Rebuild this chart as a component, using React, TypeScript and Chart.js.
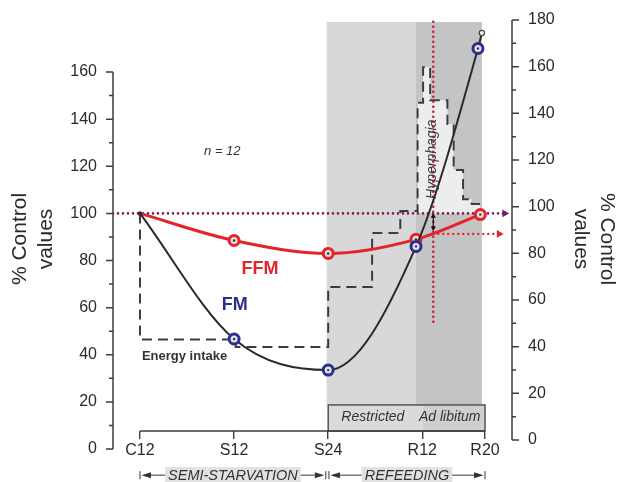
import { useEffect, useRef } from 'react';
import { Chart, registerables } from 'chart.js';

Chart.register(...registerables);

const FONT = '"Liberation Sans", Arial, Helvetica, sans-serif';

// ---- data (x in weeks counted from C12) ----
const tickWeeks = [0, 12, 24, 36, 44];
const tickLabels = ['C12', 'S12', 'S24', 'R12', 'R20'];

const fmWeeks = [0, 12, 24, 35.2, 43.1, 43.6];
const fmValues = [100, 46.7, 33.5, 86, 170, 176.6];

const ffmWeeks = [0, 12, 24, 35.2, 43.4];
const ffmValues = [100, 88.5, 83, 89, 99.5];

const energyWeeks = [0, 0, 12.2, 24, 29.6, 33.2, 35.4, 36.1, 37, 39.2, 40, 41.2, 42.3, 43.4];
const energyValues = [100, 46.5, 43.3, 68.8, 91.7, 101, 147, 162, 148, 138, 118.4, 106, 104, 104];

const leftTicks = [0, 10, 20, 30, 40, 50, 60, 70, 80, 90, 100, 110, 120, 130, 140, 150, 160];
const rightTicks = [0, 10, 20, 30, 40, 50, 60, 70, 80, 90, 100, 110, 120, 130, 140, 150, 160, 170, 180];

const controlLevel = 100;
const hyperphagiaWeek = 37.4;
const hyperphagiaFrom = 54;
const hyperphagiaTo = 182;
const ffmArrowLevel = 91.3;
const doubleArrow = [98.8, 93.8];

// ---- layout constants ----
const X_MIN = -3.44;
const X_MAX = 47.44;
const Y_MIN = -3.82;
const Y_MAX = 182.1;
const Y2_MIN = -7.71;
const Y2_MAX = 180;
const X_AXIS_LEVEL = 7.6;
const SHADE_START = 23.8;
const ADLIB_START = 35.2;
const SHADE_END = 43.6;
const BOX_TOP = 18.7;
const PHASE_LEVEL = -11.1;

const BLUE = '#2b2f8e';
const RED = '#e3242b';
const AXIS = '#3c3c3c';
const TEXT = '#2a2a2a';

const pts = (xs: number[], ys: number[]) => xs.map((x, i) => ({ x, y: ys[i] }));

const decorPlugin = {
  id: 'decor',
  beforeDatasetsDraw(chart: any) {
    const { ctx } = chart;
    const x = chart.scales.x;
    const y = chart.scales.y;
    const X = (v: number) => x.getPixelForValue(v);
    const Y = (v: number) => y.getPixelForValue(v);
    ctx.save();
    const top = chart.chartArea.top + 2;
    ctx.fillStyle = '#d8d8d8';
    ctx.fillRect(X(SHADE_START), top, X(ADLIB_START) - X(SHADE_START), Y(BOX_TOP) - top);
    ctx.fillStyle = '#c4c4c4';
    ctx.fillRect(X(ADLIB_START), top, X(SHADE_END) - X(ADLIB_START), Y(BOX_TOP) - top);
    // phase box
    const bx0 = X(24), bx1 = X(44), by0 = Y(BOX_TOP), by1 = Y(X_AXIS_LEVEL);
    ctx.fillStyle = '#dadada';
    ctx.fillRect(bx0, by0, X(36) - bx0, by1 - by0);
    ctx.fillStyle = '#cfcfcf';
    ctx.fillRect(X(36), by0, bx1 - X(36), by1 - by0);
    ctx.strokeStyle = '#4a4a4a';
    ctx.lineWidth = 1.4;
    ctx.strokeRect(bx0, by0, bx1 - bx0, by1 - by0);
    ctx.fillStyle = '#333';
    ctx.font = `italic 14px ${FONT}`;
    ctx.textAlign = 'center';
    ctx.textBaseline = 'middle';
    ctx.fillText('Restricted', X(29.7), Y(13.4));
    ctx.fillText('Ad libitum', X(39.5), Y(13.4));
    ctx.restore();
  },
  afterDatasetsDraw(chart: any) {
    const { ctx } = chart;
    const x = chart.scales.x;
    const y = chart.scales.y;
    const X = (v: number) => x.getPixelForValue(v);
    const Y = (v: number) => y.getPixelForValue(v);
    ctx.save();
    ctx.textAlign = 'center';
    ctx.textBaseline = 'middle';
    ctx.fillStyle = '#333';
    ctx.font = `italic 13px ${FONT}`;
    ctx.fillText('n = 12', X(10.5), Y(126.5));
    ctx.fillStyle = RED;
    ctx.font = `bold 18px ${FONT}`;
    ctx.fillText('FFM', X(15.3), Y(76.4));
    ctx.fillStyle = BLUE;
    ctx.fillText('FM', X(12.1), Y(61.1));
    ctx.fillStyle = '#333';
    ctx.font = `bold 13px ${FONT}`;
    ctx.textAlign = 'left';
    ctx.fillText('Energy intake', X(0.25), Y(39.5));
    // Hyperphagia rotated
    ctx.save();
    ctx.translate(X(37.2), Y(123));
    ctx.rotate(-Math.PI / 2);
    ctx.textAlign = 'center';
    ctx.font = `italic 14px ${FONT}`;
    ctx.fillStyle = '#3a3a3a';
    ctx.fillText('Hyperphagia', 0, 0);
    ctx.restore();
    ctx.restore();
  },
  afterDraw(chart: any) {
    const { ctx, chartArea } = chart;
    const x = chart.scales.x;
    const y = chart.scales.y;
    const y2 = chart.scales.y2;
    const X = (v: number) => x.getPixelForValue(v);
    const Y = (v: number) => y.getPixelForValue(v);
    const Y2 = (v: number) => y2.getPixelForValue(v);
    ctx.save();
    ctx.strokeStyle = AXIS;
    ctx.lineWidth = 1.5;
    // left axis
    const l = chartArea.left;
    ctx.beginPath();
    ctx.moveTo(l, Y(0));
    ctx.lineTo(l, Y(160));
    leftTicks.forEach((v) => {
      const len = v % 20 === 0 ? 7 : 4;
      ctx.moveTo(l - len, Y(v));
      ctx.lineTo(l, Y(v));
    });
    // right axis
    const r = chartArea.right;
    ctx.moveTo(r, Y2(0));
    ctx.lineTo(r, Y2(180));
    rightTicks.forEach((v) => {
      const len = v % 20 === 0 ? 7 : 4;
      ctx.moveTo(r, Y2(v));
      ctx.lineTo(r + len, Y2(v));
    });
    // x axis line
    ctx.moveTo(X(0), Y(X_AXIS_LEVEL));
    ctx.lineTo(X(44), Y(X_AXIS_LEVEL));
    ctx.stroke();

    // phase arrows
    const py = Y(PHASE_LEVEL);
    const phase = (x0: number, x1: number, label: string) => {
      const a = X(x0), b = X(x1);
      ctx.font = `italic 14.5px ${FONT}`;
      const w = ctx.measureText(label).width;
      const cx = (a + b) / 2;
      ctx.fillStyle = '#e1e1e1';
      ctx.fillRect(cx - w / 2 - 3, py - 8, w + 6, 16);
      ctx.strokeStyle = '#333';
      ctx.lineWidth = 1;
      ctx.beginPath();
      ctx.moveTo(a, py - 4); ctx.lineTo(a, py + 4);
      ctx.moveTo(b, py - 4); ctx.lineTo(b, py + 4);
      ctx.moveTo(a + 11, py); ctx.lineTo(cx - w / 2 - 3, py);
      ctx.moveTo(cx + w / 2 + 3, py); ctx.lineTo(b - 11, py);
      ctx.stroke();
      ctx.fillStyle = '#333';
      ctx.beginPath();
      ctx.moveTo(a + 1.5, py); ctx.lineTo(a + 11, py - 3); ctx.lineTo(a + 11, py + 3); ctx.closePath();
      ctx.moveTo(b - 1.5, py); ctx.lineTo(b - 11, py - 3); ctx.lineTo(b - 11, py + 3); ctx.closePath();
      ctx.fill();
      ctx.fillStyle = '#333';
      ctx.textAlign = 'center';
      ctx.textBaseline = 'middle';
      ctx.fillText(label, cx, py + 1);
    };
    phase(0, 23.7, 'SEMI-STARVATION');
    phase(24.1, 44, 'REFEEDING');
    ctx.restore();
  },
};

const hiddenTickGrid = { display: true, drawOnChartArea: false, drawTicks: true, tickLength: 14, tickColor: 'rgba(0,0,0,0)', color: 'rgba(0,0,0,0)' };

export default function App() {
  const ref = useRef<HTMLCanvasElement | null>(null);
  useEffect(() => {
    if (!ref.current) return;
    Chart.defaults.font.family = FONT;
    const chart = new Chart(ref.current, {
      type: 'line',
      data: {
        datasets: [
          {
            label: 'FM',
            data: pts(fmWeeks, fmValues),
            borderColor: '#2a2a2a',
            borderWidth: 2,
            cubicInterpolationMode: 'monotone',
            pointRadius: [2.2, 5, 5, 5, 5, 2.6],
            pointBorderWidth: [0, 3, 3, 3, 3, 1.2],
            pointBorderColor: ['#2a2a2a', BLUE, BLUE, BLUE, BLUE, '#444'],
            pointBackgroundColor: ['#2a2a2a', '#e4e4e8', '#e4e4e8', '#e4e4e8', '#e4e4e8', '#ffffff'],
            order: 0,
          } as any,
          {
            label: 'FFM',
            data: pts(ffmWeeks, ffmValues),
            borderColor: RED,
            borderWidth: 3,
            cubicInterpolationMode: 'monotone',
            pointRadius: [0, 5, 5, 5, 5],
            pointBorderWidth: 3,
            pointBorderColor: RED,
            pointBackgroundColor: '#e6dede',
            order: 1,
          } as any,
          {
            label: 'centres',
            data: pts(fmWeeks.slice(1, 5), fmValues.slice(1, 5)).concat(pts(ffmWeeks.slice(1), ffmValues.slice(1))),
            showLine: false,
            pointRadius: 1.2,
            pointBorderWidth: 0,
            pointBackgroundColor: '#333',
            order: -1,
          } as any,
          {
            label: 'double arrow',
            data: [{ x: hyperphagiaWeek, y: doubleArrow[0] }, { x: hyperphagiaWeek, y: doubleArrow[1] }],
            borderColor: '#111',
            borderWidth: 1.2,
            pointStyle: 'triangle',
            pointRadius: 3,
            pointRotation: [0, 180],
            pointBorderWidth: 0,
            pointBackgroundColor: '#111',
            order: 2,
          } as any,
          {
            label: 'hyperphagia line',
            data: [{ x: hyperphagiaWeek, y: hyperphagiaFrom }, { x: hyperphagiaWeek, y: hyperphagiaTo }],
            borderColor: '#c4223a',
            borderWidth: 2.6,
            borderDash: [0, 5],
            borderCapStyle: 'round',
            pointRadius: 0,
            order: 3,
          } as any,
          {
            label: 'FFM target arrow',
            data: [{ x: hyperphagiaWeek, y: ffmArrowLevel }, { x: 45.8, y: ffmArrowLevel }],
            borderColor: '#e3242b',
            borderWidth: 2.4,
            borderDash: [0, 5],
            borderCapStyle: 'round',
            pointStyle: 'triangle',
            pointRadius: [0, 4.5],
            pointRotation: 90,
            pointBorderWidth: 0,
            pointBackgroundColor: '#e3242b',
            order: 4,
          } as any,
          {
            label: 'control',
            data: [{ x: X_MIN, y: controlLevel }, { x: 46.5, y: controlLevel }],
            borderColor: '#7d1f5c',
            borderWidth: 2.6,
            borderDash: [0, 5],
            borderCapStyle: 'round',
            pointStyle: 'triangle',
            pointRadius: [0, 4.5],
            pointRotation: 90,
            pointBorderWidth: 0,
            pointBackgroundColor: '#6e1f6e',
            order: 5,
          } as any,
          {
            label: 'Energy intake',
            data: pts(energyWeeks, energyValues),
            stepped: 'before',
            borderColor: '#3a3c4a',
            borderWidth: 2,
            borderDash: [10, 6],
            pointRadius: 0,
            order: 6,
          } as any,
          {
            label: 'hyperphagia fill',
            data: pts(energyWeeks.slice(6), energyValues.slice(6)),
            stepped: 'before',
            borderWidth: 0,
            borderColor: 'rgba(0,0,0,0)',
            backgroundColor: '#ededed',
            fill: { value: controlLevel },
            pointRadius: 0,
            order: 9,
          } as any,
        ],
      },
      options: {
        responsive: false,
        animation: false,
        events: [],
        layout: { padding: { top: 20, bottom: 24, left: 0, right: 0 } },
        plugins: { legend: { display: false }, tooltip: { enabled: false }, title: { display: false } },
        scales: {
          x: {
            type: 'linear',
            min: X_MIN,
            max: X_MAX,
            position: { y: X_AXIS_LEVEL } as any,
            afterBuildTicks: (s: any) => { s.ticks = tickWeeks.map((v) => ({ value: v })); },
            ticks: {
              autoSkip: false,
              maxRotation: 0,
              padding: 2,
              color: TEXT,
              font: { family: FONT, size: 16 },
              callback: (v: any) => { const i = tickWeeks.indexOf(Number(v)); return i >= 0 ? tickLabels[i] : ''; },
            },
            grid: { drawOnChartArea: false, drawTicks: true, tickLength: 8, color: AXIS, lineWidth: 1.4 },
            border: { display: false },
          },
          y: {
            type: 'linear',
            position: 'left',
            min: Y_MIN,
            max: Y_MAX,
            afterBuildTicks: (s: any) => { s.ticks = leftTicks.map((v) => ({ value: v })); },
            afterFit: (s: any) => { s.width = 113; },
            ticks: {
              padding: 2,
              color: TEXT,
              font: { family: FONT, size: 16 },
              callback: (v: any) => (Number(v) % 20 === 0 ? String(v) : ''),
            },
            grid: hiddenTickGrid,
            border: { display: false },
            title: {
              display: true,
              text: ['% Control', 'values'],
              color: TEXT,
              font: { family: FONT, size: 21 },
              padding: { top: 8, bottom: 0 },
            },
          },
          y2: {
            type: 'linear',
            position: 'right',
            min: Y2_MIN,
            max: Y2_MAX,
            afterBuildTicks: (s: any) => { s.ticks = rightTicks.map((v) => ({ value: v })); },
            afterFit: (s: any) => { s.width = 107; },
            ticks: {
              padding: 2,
              color: TEXT,
              font: { family: FONT, size: 16 },
              callback: (v: any) => (Number(v) % 20 === 0 ? String(v) : ''),
            },
            grid: hiddenTickGrid,
            border: { display: false },
            title: {
              display: true,
              text: ['% Control', 'values'],
              color: TEXT,
              font: { family: FONT, size: 21 },
              padding: { top: 0, bottom: 0 },
            },
          },
        },
      } as any,
      plugins: [decorPlugin],
    });
    return () => chart.destroy();
  }, []);
  return (
    <div style={{ position: 'absolute', left: 0, top: 0, width: 619, height: 482, background: '#fff' }}>
      <canvas ref={ref} width={619} height={482} style={{ display: 'block' }} />
    </div>
  );
}
